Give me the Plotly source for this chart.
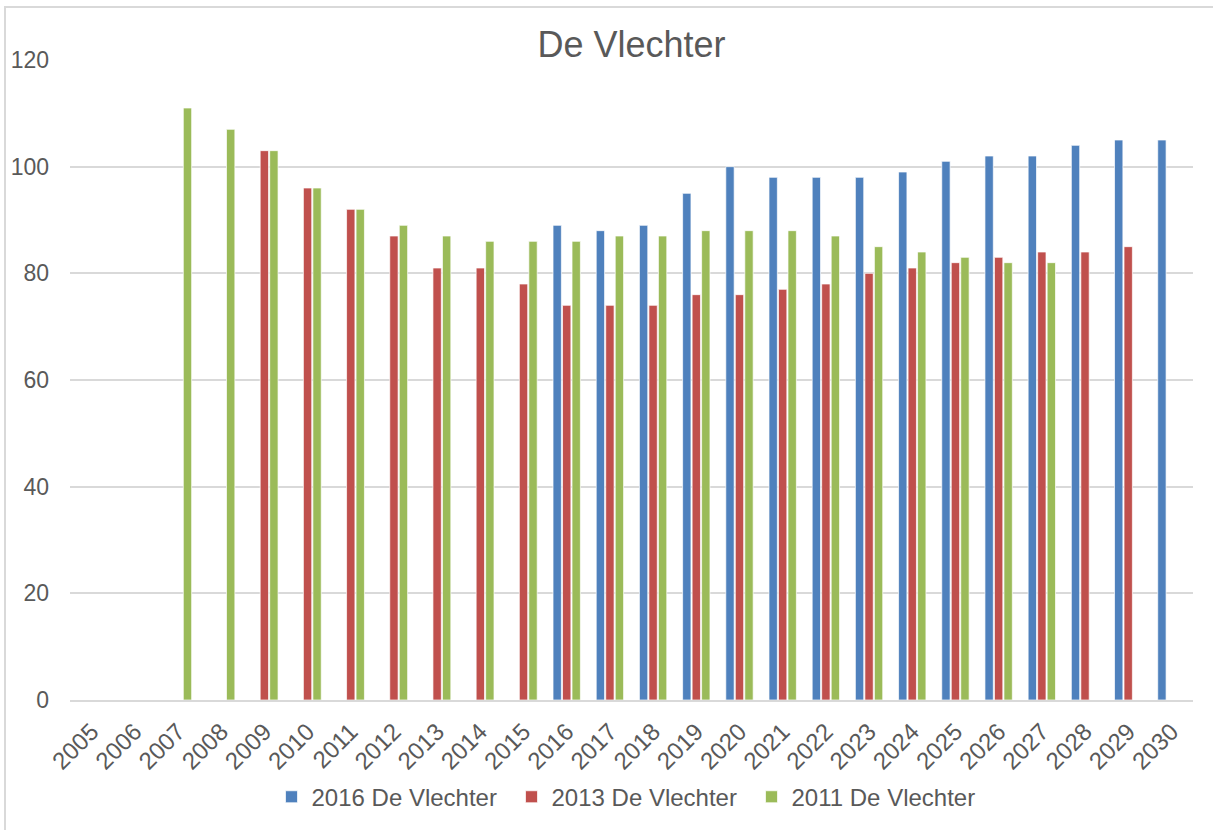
import plotly.graph_objects as go

years = [str(y) for y in range(2005, 2031)]

# values by year (None = no bar)
s2016 = [None]*11 + [89, 88, 89, 95, 100, 98, 98, 98, 99, 101, 102, 102, 104, 105, 105]
s2013 = [None]*4 + [103, 96, 92, 87, 81, 81, 78, 74, 74, 74, 76, 76, 77, 78, 80, 81, 82, 83, 84, 84, 85, None]
s2011 = [None]*2 + [111, 107, 103, 96, 92, 89, 87, 86, 86, 86, 87, 87, 88, 88, 88, 87, 85, 84, 83, 82, 82, None, None, None]

names = ["2016 De Vlechter", "2013 De Vlechter", "2011 De Vlechter"]
colors = ["#4F81BD", "#C0504D", "#9BBB59"]

fig = go.Figure()
for name, vals, col in zip(names, [s2016, s2013, s2011], colors):
    fig.add_trace(go.Bar(x=years, y=vals, name=name,
                         marker=dict(color=col, line=dict(color="rgba(255,255,255,0.7)", width=1))))

font_family = "Liberation Sans, Arial, sans-serif"
fig.update_layout(
    width=1213, height=830,
    paper_bgcolor="white", plot_bgcolor="white",
    margin=dict(l=70, r=20, t=60, b=129),
    barmode="group", bargap=0.34, bargroupgap=0.12,
    font=dict(family=font_family, color="#595959", size=23),
    title=dict(text="De Vlechter", x=0.5, xref="paper", xanchor="center",
               y=1 - 44/830, yref="container", yanchor="middle",
               font=dict(size=36, color="#595959", family=font_family)),
    legend=dict(orientation="h", x=0.5, xanchor="center", y=-0.15, yanchor="middle",
                font=dict(size=24, color="#595959"), itemwidth=30,
                entrywidth=195, entrywidthmode="pixels"),
    showlegend=True,
)
fig.update_xaxes(type="category", tickangle=-45, showline=True, linecolor="#D9D9D9",
                 linewidth=2, ticks="", tickfont=dict(size=24, color="#595959"),
                 ticklabelstandoff=6, automargin=False)
fig.update_yaxes(range=[0, 120], dtick=20, showgrid=True, gridcolor="#D9D9D9", gridwidth=2,
                 zeroline=False, ticks="", tickfont=dict(size=23, color="#595959"),
                 ticklabelstandoff=20, automargin=False)
fig.add_shape(type="rect", xref="paper", yref="paper",
              x0=(5 - 70) / 1123, x1=1.05, y0=-0.3, y1=(701 - 7) / 641,
              line=dict(color="#D9D9D9", width=2), fillcolor="rgba(0,0,0,0)", layer="below")

fig.write_html("out.html", config={"displayModeBar": False},
               post_script="document.body.style.margin='0';")
